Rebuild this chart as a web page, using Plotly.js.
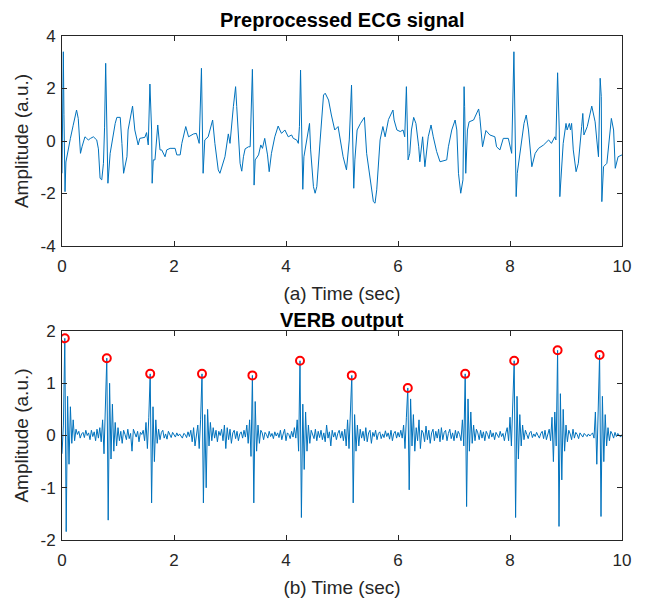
<!DOCTYPE html>
<html><head><meta charset="utf-8">
<script src="https://cdn.plot.ly/plotly-3.0.1.min.js"></script>
<style>html,body{margin:0;padding:0;background:#fff}</style>
</head><body><div id="chart" style="width:648px;height:600px"></div>
<script>
// Preprocessed ECG signal (time in s, amplitude in a.u.)
const ecgTime = [
0.00,0.01,0.024,0.035,0.054,0.07,0.095,0.15,0.2,0.26,
0.29,0.33,0.36,0.41,0.44,0.47,0.51,0.56,0.62,0.65,
0.68,0.71,0.74,0.76,0.78,0.80,0.82,0.86,0.90,0.95,
0.98,1.04,1.07,1.10,1.16,1.18,1.26,1.30,1.36,1.39,
1.48,1.51,1.54,1.57,1.60,1.61,1.63,1.66,1.71,1.75,
1.78,1.84,1.87,1.93,2.02,2.05,2.11,2.14,2.21,2.26,
2.35,2.40,2.45,2.49,2.52,2.55,2.61,2.69,2.73,2.79,
2.82,2.91,2.97,3.00,3.06,3.10,3.12,3.18,3.21,3.24,
3.27,3.33,3.36,3.37,3.40,3.42,3.43,3.45,3.51,3.55,
3.58,3.62,3.67,3.70,3.74,3.80,3.86,3.89,3.92,3.98,
4.04,4.10,4.13,4.19,4.22,4.24,4.26,4.28,4.30,4.32,
4.37,4.42,4.44,4.49,4.52,4.55,4.61,4.67,4.70,4.76,
4.81,4.87,4.93,4.99,5.02,5.08,5.13,5.17,5.19,5.21,
5.23,5.27,5.33,5.40,5.44,5.50,5.56,5.59,5.62,5.68,
5.73,5.77,5.83,5.91,5.93,5.98,6.04,6.09,6.12,6.15,
6.17,6.18,6.21,6.24,6.28,6.32,6.37,6.39,6.44,6.48,
6.54,6.59,6.63,6.69,6.75,6.87,6.90,6.96,7.02,7.05,
7.08,7.12,7.16,7.17,7.18,7.19,7.21,7.24,7.27,7.35,
7.44,7.46,7.51,7.57,7.64,7.73,7.76,7.82,7.88,7.97,
8.03,8.07,8.11,8.13,8.18,8.25,8.29,8.33,8.39,8.45,
8.51,8.60,8.69,8.74,8.80,8.82,8.85,8.88,8.89,8.92,
8.95,9.00,9.02,9.06,9.08,9.10,9.13,9.18,9.22,9.28,
9.30,9.32,9.38,9.46,9.52,9.55,9.58,9.61,9.63,9.64,
9.67,9.73,9.79,9.81,9.85,9.88,9.93,10.0
];
const ecgAmp = [
-1.23,0.55,3.40,1.0,-1.93,-0.8,-0.47,0.1,0.6,1.18,
0.86,-0.47,-0.2,0.16,0.1,0.04,0.1,0.16,0.04,-0.3,
-1.42,-1.48,-0.85,0.5,2.96,0.5,-1.61,-0.47,0.1,0.67,
0.9,0.9,-0.09,-1.23,-0.6,0.42,1.33,0.42,-0.15,0.1,
0.14,0.32,-0.15,2.17,0.42,-1.61,-0.72,-0.72,0.61,-0.34,
-0.34,-0.6,-0.34,-0.28,-0.28,-0.53,-0.53,-0.09,0.55,0.16,
0.27,0.29,-0.09,2.77,-1.23,0.04,0.16,0.8,-0.09,-1.1,
-1.23,-0.6,0.27,-0.09,1.31,2.07,1.31,-0.85,-1.15,-0.6,
-0.3,-0.22,-0.22,0.86,2.73,0.42,-1.68,-0.72,-0.53,-0.15,
-0.28,0.1,-0.53,-1.17,-0.47,0.16,0.57,0.42,0.29,0.42,
0.16,0.23,0.1,0.04,-0.09,0.55,2.7,0.42,-1.84,-0.6,
0.04,0.67,-0.34,-1.74,-1.99,-1.74,0.04,1.75,1.82,1.56,
0.99,0.42,0.55,-0.34,-0.6,-1.1,0.04,2.13,0.42,-1.8,
-0.72,0.42,0.67,0.9,-0.47,-1.48,-2.31,-2.37,-1.86,0.04,
0.55,0.16,0.82,1.18,0.8,0.42,0.36,0.42,0.16,2.07,
0.42,-0.72,-0.47,0.42,0.9,0.67,-0.22,-0.79,0.16,-0.98,
0.16,0.61,0.16,-0.4,-0.79,-0.72,-0.22,0.42,0.8,0.42,
-1.23,-1.99,-1.48,1.18,2.07,1.31,-1.23,0.42,0.73,0.8,
1.22,0.93,-0.22,0.4,0.23,0.16,-0.22,-0.34,0.1,0.1,
-0.47,3.4,-2.12,-1.23,-0.34,0.67,0.99,0.42,-0.98,-0.47,
-0.28,-0.15,0.04,-0.09,0.16,0.04,2.6,0.42,-2.12,-1.1,
-0.09,0.67,0.42,0.67,0.42,0.67,-0.34,-1.17,-0.85,0.55,
1.05,0.23,0.55,1.33,0.73,0.04,-0.6,2.39,1.69,-2.31,
-0.98,-0.85,0.55,0.86,0.42,-1.04,-0.6,-0.53
];

// VERB output, sampled every 0.025 s starting at 0 s
const verbStart = 0;
const verbStep = 0.025;
const verbAmp = [
-0.35,0.2,1.86,-1.84,0.75,-0.55,0.55,-0.15,0.3,-0.1,
0.12,0.02,0.08,-0.05,0.03,0.06,-0.04,0.1,0.0,0.05,
-0.08,0.1,-0.02,0.07,-0.1,0.12,-0.05,0.15,-0.12,0.3,
-0.35,0.4,1.48,-1.62,1.0,-0.45,0.6,-0.3,0.25,-0.2,
0.15,-0.1,0.08,-0.15,0.1,0.02,-0.08,0.12,-0.06,0.04,
-0.3,0.12,0.05,-0.03,0.08,-0.12,0.06,0.02,0.1,-0.1,
0.25,-0.25,0.35,1.18,-1.29,0.55,-0.5,0.3,-0.15,0.12,
-0.08,0.06,0.1,-0.05,0.03,-0.07,0.08,0.01,-0.04,0.06,
0.02,-0.03,0.05,-0.01,0.03,0.0,-0.05,0.04,0.02,-0.04,
0.07,-0.02,0.1,-0.12,0.15,-0.2,0.05,0.2,-0.25,0.3,
1.18,-1.29,0.4,-1.0,0.5,-0.2,0.25,-0.1,0.15,-0.05,
0.1,-0.12,0.08,0.0,0.12,-0.1,0.2,-0.25,0.15,-0.08,
0.12,-0.15,0.05,0.1,-0.06,0.08,-0.1,0.03,0.07,-0.05,
0.1,-0.03,0.2,-0.15,0.3,-0.4,1.15,-1.29,0.65,-0.3,
0.2,-0.15,0.1,0.05,-0.08,0.06,0.02,-0.05,0.08,-0.02,
0.04,-0.06,0.07,-0.01,0.05,-0.04,0.1,-0.08,0.03,0.12,
-0.1,0.05,0.02,-0.06,0.08,-0.03,0.15,-0.05,0.3,-0.3,
1.43,-1.57,0.6,-0.65,0.45,-0.3,0.2,-0.15,0.1,0.02,
-0.06,0.12,-0.1,0.08,-0.04,0.1,-0.08,0.05,-0.12,0.2,
-0.05,0.07,-0.2,0.1,-0.03,0.06,-0.08,0.04,0.1,-0.05,
0.08,-0.1,0.12,-0.2,0.3,-0.25,0.5,1.15,-1.29,0.4,
-0.3,0.2,-0.2,0.12,-0.05,0.08,-0.1,0.15,-0.12,0.05,
0.1,-0.15,0.06,-0.02,0.1,-0.08,0.04,0.07,-0.06,0.03,
-0.04,0.09,-0.02,0.05,-0.07,0.1,-0.1,0.04,0.08,-0.05,
0.06,-0.03,0.1,-0.05,0.2,-0.25,0.35,0.91,-1.04,0.7,
-0.2,0.4,-0.3,0.15,-0.1,0.3,-0.25,0.1,0.05,-0.12,
0.18,-0.08,0.1,-0.15,0.05,0.12,-0.1,0.08,-0.05,0.12,
-0.12,0.15,-0.08,0.06,0.1,-0.1,0.04,0.12,-0.06,0.05,
-0.1,0.1,-0.05,0.08,0.02,-0.1,0.3,-0.2,1.18,-1.36,
0.7,-0.3,0.45,-0.15,0.2,-0.1,0.12,0.05,-0.08,0.1,
-0.05,0.07,-0.1,0.08,0.02,-0.06,0.1,-0.03,0.05,-0.08,
0.06,0.02,-0.04,0.08,-0.02,0.04,-0.1,0.05,0.15,-0.1,
0.35,-0.2,0.5,1.43,-1.57,0.75,-0.45,0.4,-0.2,0.2,
-0.08,0.1,0.02,-0.06,0.05,0.08,-0.04,0.03,-0.02,0.06,
0.0,-0.05,0.04,0.08,-0.06,0.1,-0.08,0.05,0.12,-0.1,
0.35,-0.5,0.45,-0.2,1.63,-1.74,0.8,-0.85,0.5,-0.3,
0.2,-0.12,0.1,0.03,-0.08,0.12,-0.05,0.06,0.02,-0.06,
0.05,0.01,-0.03,0.04,0.0,-0.02,0.03,-0.01,0.02,0.05,
-0.05,0.45,-0.55,0.3,1.54,-1.55,0.75,-0.5,0.4,-0.2,
0.15,-0.1,0.08,0.03,-0.05,0.06,-0.02,0.04,0.0,-0.03,
0.02
];

// Detected R-peaks (red circles)
const peakTime = [0.05,0.8,1.575,2.5,3.4,4.25,5.175,6.175,7.2,8.075,8.85,9.6];
const peakAmp  = [1.86,1.48,1.18,1.18,1.15,1.43,1.15,0.91,1.18,1.43,1.63,1.54];

// Tick labels
const timeTicks = [0,2,4,6,8,10];
const ecgTicks = [-4,-2,0,2,4];
const ecgTickText = ['-4','-2','0','2','4'];
const verbTicks = [-2,-1,0,1,2];
const verbTickText = ['-2','-1','0','1','2'];

const BLUE = '#0072BD';
const AX = '#262626';
const FONT = 'Liberation Sans, Arial, Helvetica, sans-serif';

const traces = [
  {x: ecgTime, y: ecgAmp, type: 'scatter', mode: 'lines',
   line: {color: BLUE, width: 1}, xaxis: 'x', yaxis: 'y', hoverinfo: 'skip'},
  {y: verbAmp, x0: verbStart, dx: verbStep, type: 'scatter', mode: 'lines',
   line: {color: BLUE, width: 1}, xaxis: 'x2', yaxis: 'y2', hoverinfo: 'skip'},
  {x: peakTime, y: peakAmp, type: 'scatter', mode: 'markers',
   marker: {symbol: 'circle-open', size: 8, color: '#FF0000', line: {width: 2, color: '#FF0000'}},
   xaxis: 'x2', yaxis: 'y2', hoverinfo: 'skip'}
];

function xAxis(anchor, title) {
  return {
    anchor: anchor, domain: [0, 1], range: [0, 10], tickvals: timeTicks,
    ticks: 'inside', ticklen: 5, tickcolor: AX, showline: true, mirror: 'allticks',
    linecolor: AX, linewidth: 1, showgrid: false, zeroline: false,
    ticklabelstandoff: 5,
    tickfont: {family: FONT, size: 17, color: AX},
    title: {text: title, font: {family: FONT, size: 19, color: AX}, standoff: 11}
  };
}
function yAxis(anchor, domain, range, vals, text) {
  return {
    anchor: anchor, domain: domain, range: range, tickvals: vals, ticktext: text,
    ticks: 'inside', ticklen: 5, tickcolor: AX, showline: true, mirror: 'allticks',
    linecolor: AX, linewidth: 1, showgrid: false, zeroline: false,
    ticklabelstandoff: 2,
    tickfont: {family: FONT, size: 17, color: AX},
    title: {text: 'Amplitude (a.u.)', font: {family: FONT, size: 19, color: AX}, standoff: 6}
  };
}

const topDom = [294/504, 1];
const botDom = [0, 209/504];

const layout = {
  width: 648, height: 600,
  margin: {l: 62, r: 26, t: 36, b: 60},
  paper_bgcolor: '#fff', plot_bgcolor: '#fff',
  showlegend: false,
  font: {family: FONT, color: AX},
  xaxis: xAxis('y', '(a) Time (sec)'),
  yaxis: yAxis('x', topDom, [-4, 4], ecgTicks, ecgTickText),
  xaxis2: xAxis('y2', '(b) Time (sec)'),
  yaxis2: yAxis('x2', botDom, [-2, 2], verbTicks, verbTickText),
  annotations: [
    {text: '<b>Preprocessed ECG signal</b>', xref: 'paper', yref: 'paper', x: 0.5, y: topDom[1],
     xanchor: 'center', yanchor: 'bottom', yshift: 3, showarrow: false,
     font: {family: FONT, size: 20, color: '#000'}},
    {text: '<b>VERB output</b>', xref: 'paper', yref: 'paper', x: 0.5, y: botDom[1],
     xanchor: 'center', yanchor: 'bottom', yshift: -2, showarrow: false,
     font: {family: FONT, size: 20, color: '#000'}}
  ]
};

Plotly.newPlot('chart', traces, layout, {staticPlot: true, displayModeBar: false});
</script>
</body></html>
